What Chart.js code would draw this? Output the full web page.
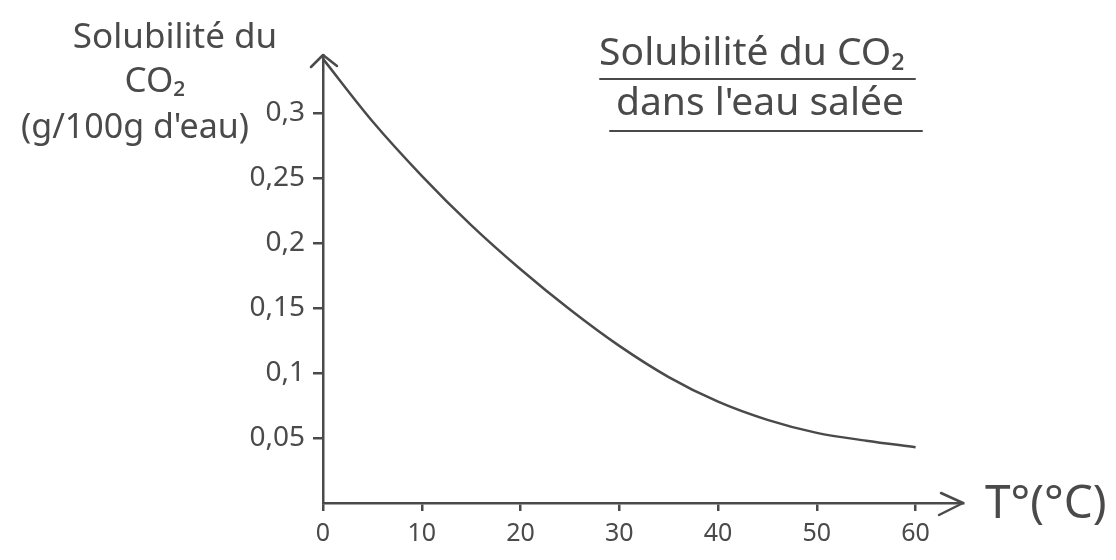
<!DOCTYPE html>
<html lang="fr">
<head>
<meta charset="utf-8">
<script src="https://cdn.jsdelivr.net/npm/chart.js@4.4.1/dist/chart.umd.min.js"></script>
<style>
  html, body { margin: 0; background: #ffffff; }
  #wrap { position: relative; width: 1116px; height: 560px; }
</style>
</head>
<body>
<div id="wrap"><canvas id="c" width="1116" height="560"></canvas></div>
<script>
// Solubility of CO2 in salt water versus temperature
const temperatures = [0, 5, 10, 15, 20, 25, 30, 35, 40, 45, 50, 55, 60];
const solubility   = [0.342, 0.294, 0.252, 0.214, 0.180, 0.149, 0.121, 0.097, 0.078, 0.064, 0.054, 0.048, 0.043];

const xTickValues = [0, 10, 20, 30, 40, 50, 60];
const xTickLabels = ['0', '10', '20', '30', '40', '50', '60'];
const yTickValues = [0.05, 0.1, 0.15, 0.2, 0.25, 0.3];
const yTickLabels = ['0,05', '0,1', '0,15', '0,2', '0,25', '0,3'];

const titleLines  = ['Solubilité du CO₂', "dans l'eau salée"];
const yTitleLines = ['Solubilité du', 'CO₂', "(g/100g d'eau)"];
const xTitle = 'T°(°C)';

const INK = '#4a4a4a';
const FONT = '"Noto Sans", "DejaVu Sans", sans-serif';

// Arrowheads on both axes, plus the axis titles and the underlined heading
const sketchDecor = {
  id: 'sketchDecor',
  afterDraw(chart) {
    const { ctx, chartArea: a } = chart;
    ctx.save();
    ctx.strokeStyle = INK;
    ctx.fillStyle = INK;
    ctx.lineWidth = 2.5;
    ctx.lineCap = 'round';
    ctx.lineJoin = 'round';

    // y axis arrow (pointing up)
    ctx.beginPath();
    ctx.moveTo(a.left - 12, a.top + 12);
    ctx.lineTo(a.left, a.top);
    ctx.lineTo(a.left + 14, a.top + 11);
    ctx.stroke();

    // x axis arrow (pointing right)
    ctx.beginPath();
    ctx.moveTo(a.right - 22, a.bottom - 10);
    ctx.lineTo(a.right, a.bottom);
    ctx.lineTo(a.right - 24, a.bottom + 12);
    ctx.stroke();

    // y axis title, three centred lines
    ctx.textBaseline = 'middle';
    ctx.textAlign = 'center';
    ctx.font = '35px ' + FONT;
    ctx.fillText(yTitleLines[0], 175, 38);
    ctx.fillText(yTitleLines[1], 155, 82);
    ctx.font = '34px ' + FONT;
    ctx.fillText(yTitleLines[2], 135, 128);

    // x axis title
    ctx.textAlign = 'left';
    ctx.font = '46px ' + FONT;
    ctx.fillText(xTitle, 985, 505);

    // heading, underlined
    ctx.textAlign = 'center';
    ctx.font = '39px ' + FONT;
    ctx.fillText(titleLines[0], 752, 54);
    ctx.fillText(titleLines[1], 760, 104);
    ctx.lineWidth = 2;
    ctx.beginPath();
    ctx.moveTo(600, 79); ctx.lineTo(915, 79);
    ctx.moveTo(610, 131); ctx.lineTo(922, 131);
    ctx.stroke();
    ctx.restore();
  }
};

new Chart(document.getElementById('c'), {
  type: 'line',
  data: {
    datasets: [{
      data: temperatures.map((t, i) => ({ x: t, y: solubility[i] })),
      borderColor: INK,
      borderWidth: 2.5,
      pointRadius: 0,
      fill: false,
      cubicInterpolationMode: 'monotone',
      clip: false
    }]
  },
  options: {
    responsive: false,
    animation: false,
    devicePixelRatio: 1,
    layout: { padding: { left: 243, right: 153, top: 55, bottom: 10 } },
    plugins: { legend: { display: false }, tooltip: { enabled: false }, title: { display: false } },
    scales: {
      x: {
        type: 'linear',
        min: 0,
        max: 64.8,
        afterBuildTicks: s => { s.ticks = xTickValues.map(v => ({ value: v })); },
        afterFit: s => { s.height = 47; },
        ticks: {
          callback: (v, i) => xTickLabels[i],
          color: INK,
          font: { family: FONT, size: 25 },
          padding: 8,
          maxRotation: 0
        },
        grid: { display: true, drawOnChartArea: false, drawTicks: true, tickLength: 8, color: INK, lineWidth: 2.5 },
        border: { display: true, color: INK, width: 2.5 }
      },
      y: {
        type: 'linear',
        min: 0,
        max: 0.345,
        afterBuildTicks: s => { s.ticks = yTickValues.map(v => ({ value: v })); },
        afterFit: s => { s.width = 80; },
        ticks: {
          callback: (v, i) => yTickLabels[i],
          color: INK,
          font: { family: FONT, size: 28 },
          padding: 8
        },
        grid: { display: true, drawOnChartArea: false, drawTicks: true, tickLength: 10, color: INK, lineWidth: 2.5 },
        border: { display: true, color: INK, width: 2.5 }
      }
    }
  },
  plugins: [sketchDecor]
});
</script>
</body>
</html>
